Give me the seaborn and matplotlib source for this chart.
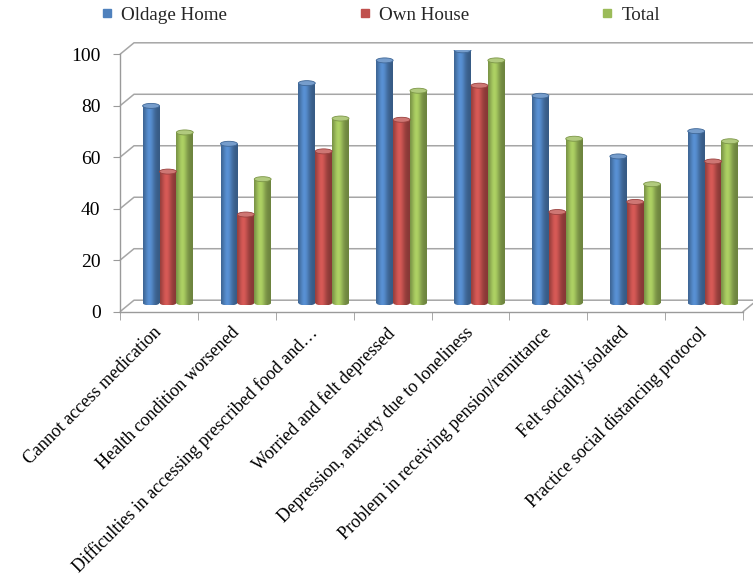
import numpy as np
import pandas as pd
import matplotlib
matplotlib.use("Agg")
import matplotlib.pyplot as plt
import matplotlib.transforms as mtransforms
import seaborn as sns
from matplotlib.patches import Ellipse
from matplotlib.lines import Line2D
from matplotlib.ticker import FixedLocator

# ---- data -------------------------------------------------------------
categories = [
    "Cannot access medication",
    "Health condition worsened",
    "Difficulties in accessing prescribed food and…",
    "Worried and felt depressed",
    "Depression, anxiety due to loneliness",
    "Problem in receiving pension/remittance",
    "Felt socially isolated",
    "Practice social distancing protocol",
]
oldage_home = [78, 63, 87, 96, 100, 82, 58, 68]
own_house = [52, 35, 60, 72.5, 86, 36, 40, 56]
total = [67.5, 49, 73, 84, 96, 65, 47, 64]
series_names = ["Oldage Home", "Own House", "Total"]
y_ticks = [0, 20, 40, 60, 80, 100]

colors = ["#4F81BD", "#C0504D", "#9BBB59"]
GRID = "#A6A6A6"
AXIS = "#9A9A9A"

df = pd.DataFrame({
    "category": categories * 3,
    "series": np.repeat(series_names, len(categories)),
    "value": oldage_home + own_house + total,
})

# ---- figure / layout (pixel based) -------------------------------------
W, H = 753, 580
sns.set_style("white")
plt.rcParams["font.family"] = ["Liberation Serif", "DejaVu Serif"]

fig = plt.figure(figsize=(W / 100, H / 100), dpi=100)


def px_rect(left, right, ybot, ytop):
    return [left / W, 1 - ybot / H, (right - left) / W, (ybot - ytop) / H]


# front axis: 0 at y=311.7px, 100 at y=54.3px
F_L, F_R, F_Y0, F_Y100 = 120, 743, 311.7, 54.3
DX, DY = 14, 11.5  # depth offset of the back wall

# bar plane: value 0 at 303px, 100 at 50.3px
B_SCALE = (303 - 50.3) / 100
B_YMIN = -3

bg = fig.add_axes([0, 0, 1, 1], zorder=0)
bg.set_xlim(0, W)
bg.set_ylim(H, 0)
bg.axis("off")

front = fig.add_axes(px_rect(F_L, F_R, F_Y0, F_Y100), zorder=1)
ax = fig.add_axes(px_rect(129, 752, 303 - B_YMIN * B_SCALE, 50.3), zorder=2)

# ---- back wall gridlines and floor --------------------------------------
def front_y(v):
    return F_Y0 - (F_Y0 - F_Y100) * v / 100


for v in y_ticks:
    yf = front_y(v)
    bg.plot([F_L, F_L + DX, W], [yf, yf - DY, yf - DY], color=GRID, lw=1.1,
            solid_capstyle="butt")
# right edge of the floor
bg.plot([F_R, F_R + DX], [F_Y0, F_Y0 - DY], color=GRID, lw=1.1)

# ---- bars ----------------------------------------------------------------
sns.barplot(data=df, x="category", y="value", hue="series", order=categories,
            hue_order=series_names, palette=colors, saturation=1, width=0.65,
            gap=0, legend=False, ax=ax, errorbar=None)

cap_h = 5.0 / B_SCALE  # height of the elliptical caps, in data units
t = np.linspace(0, 1, 64)
shade = 0.70 + 0.42 * np.exp(-((t - 0.38) / 0.30) ** 2)

for p in list(ax.patches):
    x0, w, h = p.get_x(), p.get_width(), p.get_height()
    base = np.array(p.get_facecolor()[:3])
    p.set_edgecolor("none")
    row = np.clip(base[None, :] * shade[:, None], 0, 1)[None, :, :]
    z = p.get_zorder()

    body = ax.imshow(row, extent=[x0, x0 + w, 0, h], aspect="auto",
                     interpolation="bilinear", zorder=z + 0.1)
    body.set_clip_path(p)

    foot = Ellipse((x0 + w / 2, 0), w, cap_h, facecolor="none",
                   edgecolor="none")
    ax.add_patch(foot)
    foot_img = ax.imshow(row, extent=[x0, x0 + w, -cap_h / 2, cap_h / 2],
                         aspect="auto", interpolation="bilinear", zorder=z + 0.05)
    foot_img.set_clip_path(foot)

    top_col = base + (1 - base) * 0.22
    ax.add_patch(Ellipse((x0 + w / 2, h), w, cap_h, facecolor=top_col,
                         edgecolor=base * 0.8, lw=0.6, zorder=z + 0.2))

ax.set_xlim(-0.5, len(categories) - 0.5)
ax.set_ylim(B_YMIN, 100)
ax.axis("off")

# ---- front axes: ticks and labels ----------------------------------------
front.set_xlim(-0.5, len(categories) - 0.5)
front.set_ylim(0, 100)
front.patch.set_alpha(0)
for s in ["top", "right"]:
    front.spines[s].set_visible(False)
for s in ["left", "bottom"]:
    front.spines[s].set_color(AXIS)
    front.spines[s].set_linewidth(1.0)

front.set_yticks(y_ticks)
front.set_yticklabels([str(v) for v in y_ticks])
front.tick_params(axis="y", left=True, length=5, color=AXIS, labelsize=14,
                  pad=9, labelcolor="black")

front.set_xticks(range(len(categories)))
front.set_xticklabels(categories, rotation=45, ha="right", va="top",
                      rotation_mode="anchor")
front.tick_params(axis="x", which="major", bottom=True, length=0, pad=9,
                  labelsize=13, labelcolor="black")
shift = mtransforms.ScaledTranslation(-6 / 100, 0, fig.dpi_scale_trans)
for lab in front.get_xticklabels():
    lab.set_transform(lab.get_transform() + shift)
front.xaxis.set_minor_locator(FixedLocator(np.arange(-0.5, len(categories), 1)))
front.tick_params(axis="x", which="minor", bottom=True, length=6, color=AXIS)
front.set_xlabel("")
front.set_ylabel("")

# ---- legend ----------------------------------------------------------------
handles = [Line2D([], [], marker="s", linestyle="", color=c, markersize=6)
           for c in colors]
fig.legend(handles, series_names, loc="center left",
           bbox_to_anchor=(102 / W, 1 - 15 / H), ncol=3, frameon=False,
           fontsize=13.7, handlelength=0.5, handletextpad=0.5,
           columnspacing=7.0, borderpad=0, borderaxespad=0)

fig.savefig("out.png", dpi=100)
